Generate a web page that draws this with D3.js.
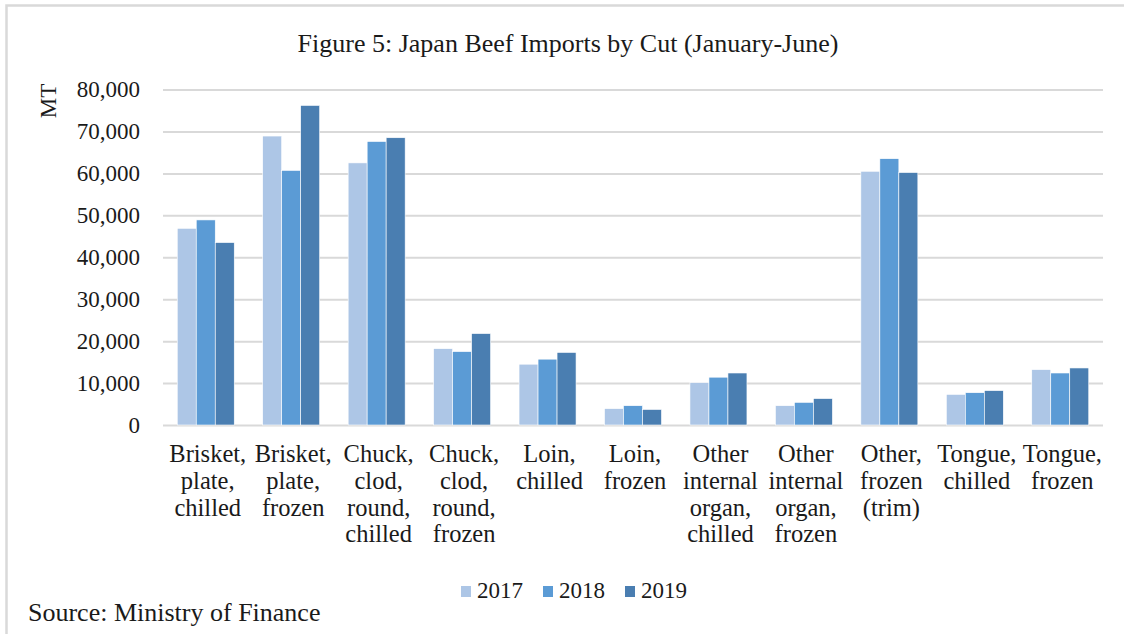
<!DOCTYPE html>
<html lang="en">
<head>
<meta charset="utf-8">
<style>
  body { margin: 0; background: #fff; }
  svg text { font-family: "Liberation Serif", "Times New Roman", serif; fill: #1a1a1a; }
</style>
</head>
<body>
<div id="chart"></div>
<script src="https://d3js.org/d3.v7.min.js"></script>
<script>
// data
var cuts = [
  ["Brisket,", "plate,", "chilled"],
  ["Brisket,", "plate,", "frozen"],
  ["Chuck,", "clod,", "round,", "chilled"],
  ["Chuck,", "clod,", "round,", "frozen"],
  ["Loin,", "chilled"],
  ["Loin,", "frozen"],
  ["Other", "internal", "organ,", "chilled"],
  ["Other", "internal", "organ,", "frozen"],
  ["Other,", "frozen", "(trim)"],
  ["Tongue,", "chilled"],
  ["Tongue,", "frozen"]
];
var years = ["2017", "2018", "2019"];
var v2017 = [46900, 68900, 62500, 18200, 14500, 3900, 10100, 4600, 60500, 7300, 13200];
var v2018 = [48900, 60700, 67600, 17500, 15700, 4600, 11400, 5400, 63500, 7700, 12400];
var v2019 = [43500, 76200, 68500, 21800, 17300, 3700, 12400, 6300, 60200, 8200, 13600];
var yTicks = [0, 10000, 20000, 30000, 40000, 50000, 60000, 70000, 80000];
var colors = ["#adc6e6", "#5b9bd5", "#4a7eb1"];

var W = 1124, H = 634;
var plotLeft = 163, plotRight = 1103, plotTop = 89.5, plotBottom = 425;

var svg = d3.select("#chart").append("svg")
    .attr("width", W)
    .attr("height", H);

// frame of the chart object (bottom edge cut off)
svg.append("path")
    .attr("d", "M6.5," + H + "V5.5H" + W)
    .attr("fill", "none")
    .attr("stroke", "#d9d9d9")
    .attr("stroke-width", 2.5);

svg.append("text")
    .attr("x", 568)
    .attr("y", 52)
    .attr("text-anchor", "middle")
    .attr("font-size", "26px")
    .text("Figure 5: Japan Beef Imports by Cut (January-June)");

var x = d3.scaleBand()
    .domain(d3.range(cuts.length))
    .range([plotLeft, plotRight])
    .paddingInner(0.333)
    .paddingOuter(0.1667);

var xs = d3.scaleBand()
    .domain(years)
    .range([0, x.bandwidth()]);

var y = d3.scaleLinear()
    .domain([0, 80000])
    .range([plotBottom, plotTop]);

// gridlines + tick labels
var yAxis = svg.append("g")
    .attr("transform", "translate(" + plotLeft + ",0)")
    .call(d3.axisLeft(y)
        .tickValues(yTicks)
        .tickSize(-(plotRight - plotLeft))
        .tickPadding(23)
        .tickFormat(d3.format(",")));
yAxis.select(".domain").remove();
yAxis.selectAll(".tick line")
    .attr("stroke", "#d9d9d9")
    .attr("stroke-width", 2);
yAxis.selectAll(".tick text")
    .attr("font-family", "Liberation Serif")
    .attr("font-size", "23px")
    .attr("fill", "#1a1a1a");

svg.append("text")
    .attr("transform", "translate(55.5,101) rotate(-90)")
    .attr("text-anchor", "middle")
    .attr("font-size", "23px")
    .text("MT");

var series = [v2017, v2018, v2019];
var groups = svg.selectAll("g.cut")
    .data(cuts)
    .enter()
    .append("g")
    .attr("class", "cut")
    .attr("transform", function (d, i) { return "translate(" + x(i) + ",0)"; });

groups.selectAll("rect")
    .data(function (d, i) {
        return years.map(function (yr, k) { return { year: yr, k: k, value: series[k][i] }; });
    })
    .enter()
    .append("rect")
    .attr("x", function (d) { return xs(d.year); })
    .attr("width", xs.bandwidth())
    .attr("y", function (d) { return y(d.value); })
    .attr("height", function (d) { return plotBottom - y(d.value); })
    .attr("fill", function (d) { return colors[d.k]; })
    .attr("stroke", "#ffffff")
    .attr("stroke-width", 0.6);

// category labels
groups.append("text")
    .attr("text-anchor", "middle")
    .attr("font-size", "24.5px")
    .selectAll("tspan")
    .data(function (d) { return d; })
    .enter()
    .append("tspan")
    .attr("x", x.bandwidth() / 2 + 2)
    .attr("y", function (d, j) { return 462 + j * 26.8; })
    .text(function (d) { return d; });

// legend
var legX = [461, 543, 625];
var legend = svg.selectAll("g.leg")
    .data(years)
    .enter()
    .append("g")
    .attr("class", "leg")
    .attr("transform", function (d, i) { return "translate(" + legX[i] + ",0)"; });
legend.append("rect")
    .attr("x", 0)
    .attr("y", 586)
    .attr("width", 10)
    .attr("height", 11)
    .attr("fill", function (d, i) { return colors[i]; });
legend.append("text")
    .attr("x", 16)
    .attr("y", 598)
    .attr("font-size", "23px")
    .text(function (d) { return d; });

svg.append("text")
    .attr("x", 28)
    .attr("y", 621)
    .attr("font-size", "26px")
    .text("Source: Ministry of Finance");
</script>
</body>
</html>
